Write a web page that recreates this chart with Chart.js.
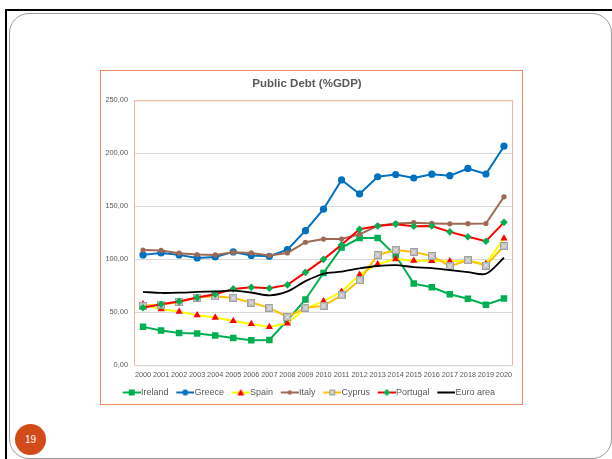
<!DOCTYPE html>
<html>
<head>
<meta charset="utf-8">
<script src="https://cdn.jsdelivr.net/npm/chart.js@4.4.1/dist/chart.umd.min.js"></script>
<style>
  body { margin: 0; width: 612px; height: 459px; overflow: hidden; position: relative; background: #fff; font-family: 'Liberation Sans', Arial, sans-serif; }
  .top-line { position: absolute; left: 5px; top: 9px; width: 607px; height: 2px; background: #000; }
  .left-line { position: absolute; left: 5px; top: 9px; width: 2px; height: 450px; background: #000; }
  .frame { position: absolute; left: 9px; top: 13px; width: 601px; height: 444px; border: 1px solid #9a9a9a; border-radius: 20px; }
  .chart-box { position: absolute; left: 100px; top: 70px; width: 421px; height: 333px; border: 1px solid #e98b63; background: #fff; }
  .slide-num { position: absolute; left: 15px; top: 424px; width: 31px; height: 31px; border-radius: 50%; background: #d24b18; color: #fff; font-size: 10px; line-height: 31px; text-align: center; }
</style>
</head>
<body>
<div class="top-line"></div>
<div class="left-line"></div>
<div class="frame"></div>
<div class="chart-box"><canvas id="debt-chart" width="421" height="333"></canvas></div>
<div class="slide-num">19</div>
<script>
const years = ['2000', '2001', '2002', '2003', '2004', '2005', '2006', '2007', '2008', '2009', '2010',
  '2011', '2012', '2013', '2014', '2015', '2016', '2017', '2018', '2019', '2020'];
const ireland = [36.2, 32.7, 30.5, 29.9, 28.0, 25.8, 23.6, 23.9, 42.4, 62.0, 87.0, 111.0, 120.0, 120.0, 103.5, 77.0, 73.6, 67.0, 62.7, 57.0, 62.9];
const greece = [104.1, 105.9, 104.1, 101.2, 102.2, 106.9, 103.5, 102.8, 109.1, 126.9, 147.2, 174.8, 161.6, 177.8, 179.9, 176.6, 180.2, 178.8, 185.6, 180.4, 206.6];
const spain = [57.5, 52.8, 50.6, 47.2, 45.0, 41.8, 39.0, 36.2, 39.5, 53.5, 60.4, 69.3, 85.5, 95.3, 100.1, 98.6, 98.5, 98.2, 98.6, 95.6, 119.6];
const italy = [108.6, 108.3, 105.7, 104.4, 104.1, 106.6, 105.9, 103.5, 105.9, 116.0, 119.0, 119.0, 123.5, 131.6, 133.8, 134.5, 133.8, 133.4, 133.5, 133.7, 158.9];
const cyprus = [56.0, 57.2, 59.7, 63.8, 65.1, 63.5, 59.1, 54.1, 45.6, 54.2, 56.0, 65.8, 80.2, 104.0, 108.7, 106.8, 103.1, 93.5, 99.1, 94.0, 112.5];
const portugal = [54.2, 57.5, 60.2, 63.8, 67.0, 72.0, 73.6, 72.6, 75.8, 87.6, 99.9, 113.6, 128.3, 131.3, 133.1, 131.1, 131.4, 125.8, 121.2, 117.0, 134.8];
const euroArea = [69.2, 68.2, 68.4, 69.2, 69.6, 70.4, 68.6, 65.9, 69.7, 79.3, 86.3, 88.2, 91.3, 93.6, 94.4, 92.6, 91.6, 89.7, 87.9, 86.3, 101.4];
const yTicks = [0, 50, 100, 150, 200, 250];

const textColor = '#595959';
const fontFamily = "'Liberation Sans', Arial, sans-serif";

// gray box marker with a cross, like the Cyprus series
function makeCrossBox(size) {
  const c = document.createElement('canvas');
  c.width = size;
  c.height = size;
  const g = c.getContext('2d');
  g.fillStyle = '#bdbdbd';
  g.fillRect(0, 0, size, size);
  g.strokeStyle = '#e6e6e6';
  g.lineWidth = 1;
  g.beginPath();
  g.moveTo(1.5, 1.5); g.lineTo(size - 1.5, size - 1.5);
  g.moveTo(size - 1.5, 1.5); g.lineTo(1.5, size - 1.5);
  g.stroke();
  g.strokeStyle = '#a0a0a0';
  g.strokeRect(0.5, 0.5, size - 1, size - 1);
  return c;
}
const cyprusMarker = makeCrossBox(8);

function drawMarker(g, style, x, y, color) {
  g.fillStyle = color;
  g.beginPath();
  if (style === 'rect') {
    g.rect(x - 3, y - 3, 6, 6);
  } else if (style === 'circle') {
    g.arc(x, y, 3, 0, Math.PI * 2);
  } else if (style === 'smallCircle') {
    g.arc(x, y, 2.2, 0, Math.PI * 2);
  } else if (style === 'triangle') {
    g.moveTo(x, y - 3.5); g.lineTo(x + 3.5, y + 3); g.lineTo(x - 3.5, y + 3); g.closePath();
  } else if (style === 'rectRot') {
    g.moveTo(x, y - 3.5); g.lineTo(x + 3.5, y); g.lineTo(x, y + 3.5); g.lineTo(x - 3.5, y); g.closePath();
  } else if (style === 'cross') {
    g.drawImage(makeCrossBox(6), x - 3, y - 3);
    return;
  }
  g.fill();
}

// legend icon: line with marker, drawn in the right 18px so it sits against the text
function makeLegendIcon(lineColor, markerStyle, markerColor) {
  const c = document.createElement('canvas');
  c.width = 26;
  c.height = 8;
  const g = c.getContext('2d');
  g.strokeStyle = lineColor;
  g.lineWidth = 2;
  g.beginPath();
  g.moveTo(8, 4); g.lineTo(26, 4);
  g.stroke();
  if (markerStyle) drawMarker(g, markerStyle, 17, 4, markerColor);
  return c;
}

const series = [
  { label: 'Ireland', data: ireland, line: '#00b050', marker: '#00b050', point: 'rect', radius: 4.6, icon: 'rect' },
  { label: 'Greece', data: greece, line: '#0070c0', marker: '#0070c0', point: 'circle', radius: 3.6, icon: 'circle' },
  { label: 'Spain', data: spain, line: '#ffff00', marker: '#ff0000', point: 'triangle', radius: 4.2, icon: 'triangle' },
  { label: 'Italy', data: italy, line: '#9e6a55', marker: '#9e6a55', point: 'circle', radius: 2.6, icon: 'smallCircle' },
  { label: 'Cyprus', data: cyprus, line: '#ffc000', marker: '#bdbdbd', point: cyprusMarker, radius: 4, icon: 'cross' },
  { label: 'Portugal', data: portugal, line: '#ff0000', marker: '#00b050', point: 'rectRot', radius: 3.8, icon: 'rectRot' },
  { label: 'Euro area', data: euroArea, line: '#000000', marker: null, point: 'circle', radius: 0, icon: null },
];

const datasets = series.map((s, i) => ({
  label: s.label,
  data: s.data,
  borderColor: s.line,
  backgroundColor: s.marker || s.line,
  borderWidth: i === 6 ? 1.8 : 2,
  pointStyle: s.point,
  pointRadius: s.radius,
  pointBorderWidth: 0,
  pointBackgroundColor: s.marker || s.line,
  tension: i === 6 ? 0.3 : 0,
  order: series.length - i,
  legendIcon: makeLegendIcon(s.line, s.icon, s.marker),
}));

const plotBorder = {
  id: 'plotBorder',
  beforeDatasetsDraw(chart) {
    const { ctx, chartArea: a } = chart;
    ctx.save();
    ctx.lineWidth = 1;
    ctx.strokeStyle = '#f3b49c';
    ctx.beginPath();
    ctx.moveTo(a.left + 0.5, a.bottom);
    ctx.lineTo(a.left + 0.5, a.top + 0.5);
    ctx.lineTo(a.right - 0.5, a.top + 0.5);
    ctx.lineTo(a.right - 0.5, a.bottom);
    ctx.stroke();
    ctx.strokeStyle = '#d9d9d9';
    ctx.beginPath();
    ctx.moveTo(a.left, a.bottom + 0.5);
    ctx.lineTo(a.right, a.bottom + 0.5);
    ctx.stroke();
    ctx.restore();
  },
};

new Chart(document.getElementById('debt-chart'), {
  type: 'line',
  data: { labels: years, datasets: datasets },
  plugins: [plotBorder],
  options: {
    responsive: false,
    animation: false,
    devicePixelRatio: 1,
    layout: { padding: { left: 0, right: 9, top: 0, bottom: -3 } },
    plugins: {
      title: {
        display: true,
        text: 'Public Debt (%GDP)',
        color: textColor,
        font: { family: fontFamily, size: 11.5, weight: 'bold' },
        padding: { top: 6.4, bottom: 9 },
      },
      legend: {
        position: 'bottom',
        labels: {
          usePointStyle: true,
          pointStyleWidth: 17.5,
          boxHeight: 8,
          padding: 4,
          color: textColor,
          font: { family: fontFamily, size: 9 },
          generateLabels(chart) {
            return chart.data.datasets.map((ds, i) => ({
              text: ds.label,
              pointStyle: ds.legendIcon,
              fillStyle: ds.borderColor,
              strokeStyle: ds.borderColor,
              lineWidth: 0,
              fontColor: textColor,
              hidden: false,
              datasetIndex: i,
            }));
          },
        },
      },
      tooltip: { enabled: false },
    },
    scales: {
      x: {
        offset: true,
        grid: { display: false, drawTicks: false },
        border: { display: false },
        ticks: {
          color: textColor,
          autoSkip: false,
          maxRotation: 0,
          minRotation: 0,
          padding: 5,
          font: { family: fontFamily, size: 7.3 },
        },
      },
      y: {
        min: 0,
        max: 250,
        afterBuildTicks(scale) {
          scale.ticks = yTicks.map((v) => ({ value: v }));
        },
        afterFit(scale) {
          scale.width = 33;
        },
        grid: { color: '#d9d9d9', drawTicks: false },
        border: { display: false },
        ticks: {
          color: textColor,
          padding: 6,
          font: { family: fontFamily, size: 7.4 },
          callback: (value) => value.toFixed(2).replace('.', ','),
        },
      },
    },
  },
});
</script>
</body>
</html>
